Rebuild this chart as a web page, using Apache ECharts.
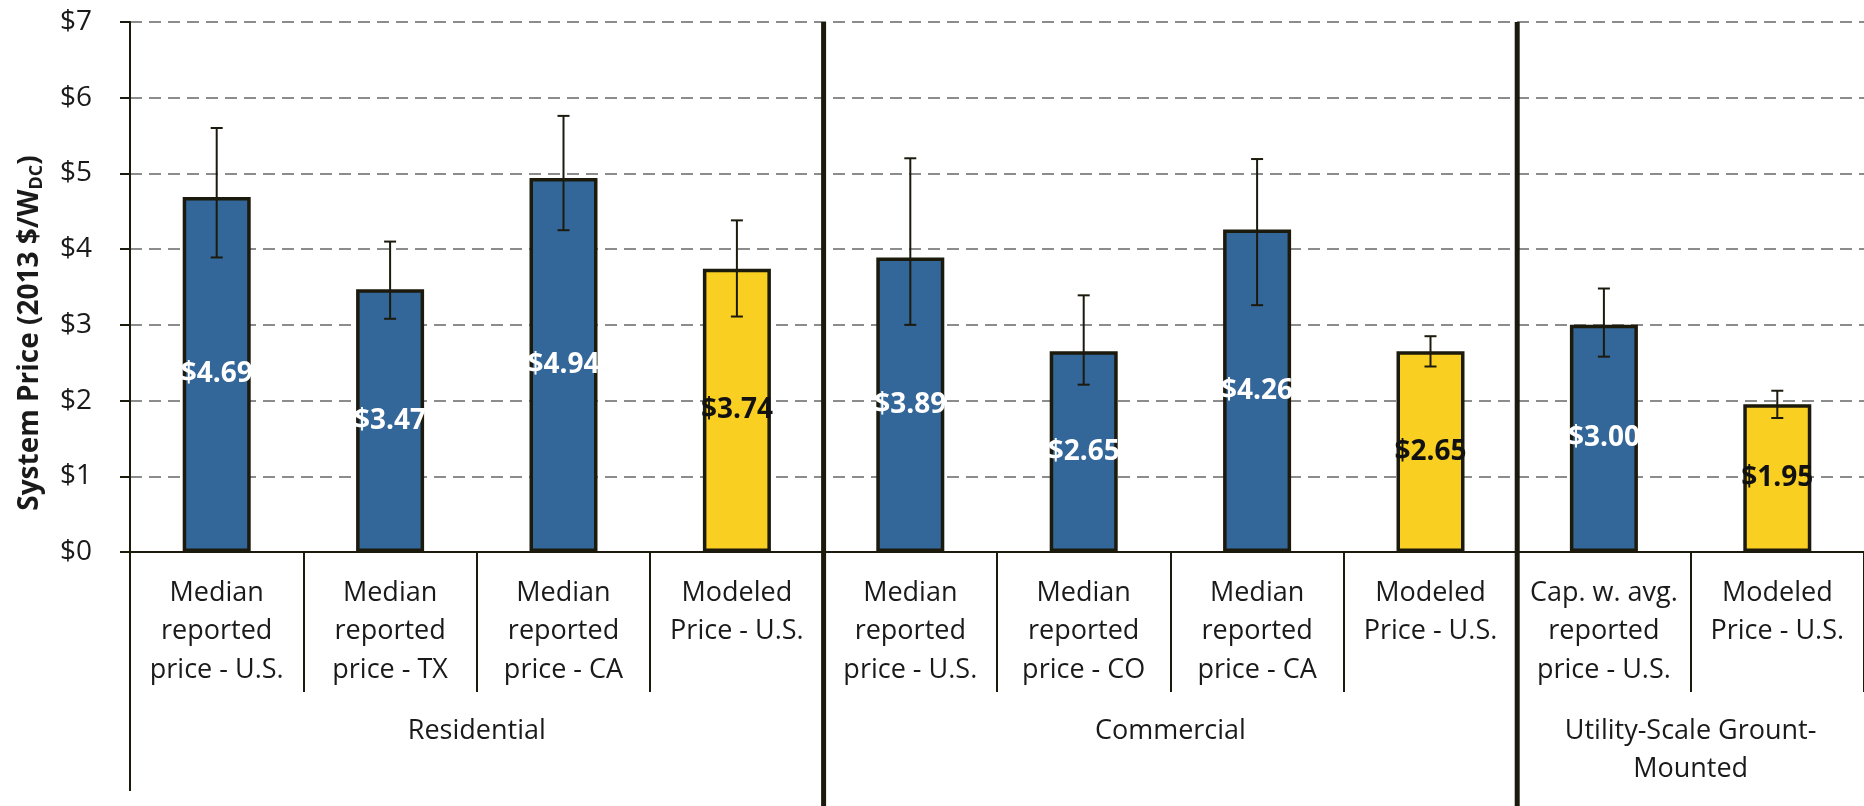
<!DOCTYPE html>
<html>
<head>
<meta charset="utf-8">
<script src="https://cdn.jsdelivr.net/npm/echarts@6/dist/echarts.min.js"></script>
<style>
html,body{margin:0;padding:0;background:#fff;}
#chart{width:1864px;height:806px;}
</style>
</head>
<body>
<div id="chart"></div>
<script>
// ---- data ----
const categories = [
  'Median\nreported\nprice - U.S.',
  'Median\nreported\nprice - TX',
  'Median\nreported\nprice - CA',
  'Modeled\nPrice - U.S.',
  'Median\nreported\nprice - U.S.',
  'Median\nreported\nprice - CO',
  'Median\nreported\nprice - CA',
  'Modeled\nPrice - U.S.',
  'Cap. w. avg.\nreported\nprice - U.S.',
  'Modeled\nPrice - U.S.'
];
const prices   = [4.69, 3.47, 4.94, 3.74, 3.89, 2.65, 4.26, 2.65, 3.00, 1.95];
const errLow   = [3.89, 3.08, 4.25, 3.11, 3.00, 2.21, 3.26, 2.45, 2.58, 1.77];
const errHigh  = [5.60, 4.10, 5.76, 4.38, 5.20, 3.39, 5.19, 2.85, 3.48, 2.13];
const groupNames   = ['Residential', 'Commercial', 'Utility-Scale Grount-\nMounted'];
const groupCenters = [2, 6, 9];      // position along the category span (0..10)
const groupBounds  = [4, 8];         // thick separators between groups
const yTicks = [0, 1, 2, 3, 4, 5, 6, 7];

// ---- styles ----
const INK = '#1c1a0c';
const BLUE = '#336699';
const YELLOW = '#F9CF22';
const FONT = '"Open Sans", "Liberation Sans", sans-serif';

const chart = echarts.init(document.getElementById('chart'), null, {renderer: 'canvas'});

const barData = prices.map((v, i) => {
  const modeled = categories[i].startsWith('Modeled');
  return {
    value: v,
    itemStyle: {color: modeled ? YELLOW : BLUE},
    label: {color: modeled ? '#111111' : '#ffffff'}
  };
});

const errData = prices.map((v, i) => [i, errLow[i], errHigh[i]]);

const sepSeries = groupBounds.map(b => ({
  type: 'line',
  xAxisIndex: 1,
  yAxisIndex: 0,
  data: [[b, yTicks[yTicks.length - 1]], [b, -3.6]],
  symbol: 'none',
  clip: false,
  silent: true,
  lineStyle: {color: INK, width: 5},
  z: 10
}));

const option = {
  animation: false,
  backgroundColor: '#ffffff',
  grid: {left: 130, right: -6, top: 22, bottom: 254, containLabel: false},
  xAxis: [
    {
      type: 'category',
      data: categories,
      boundaryGap: true,
      axisLine: {show: true, lineStyle: {color: INK, width: 2}},
      axisTick: {show: true, interval: 0, length: 140, lineStyle: {color: INK, width: 2}},
      axisLabel: {
        interval: 0, margin: 22, fontFamily: FONT, fontSize: 27, lineHeight: 38.5,
        color: '#1a1a1a', align: 'center', verticalAlign: 'top'
      },
      splitLine: {show: false}
    },
    {
      type: 'value',
      min: 0, max: 10,
      position: 'bottom',
      axisLine: {show: false},
      splitLine: {show: false},
      axisTick: {show: true, customValues: [0], length: 239, lineStyle: {color: INK, width: 2}},
      axisLabel: {
        show: true, customValues: groupCenters, margin: 160,
        fontFamily: FONT, fontSize: 27, lineHeight: 38.5, color: '#1a1a1a',
        verticalAlign: 'top', align: 'center',
        formatter: v => groupNames[groupCenters.indexOf(v)] || ''
      }
    }
  ],
  yAxis: {
    type: 'value',
    min: yTicks[0], max: yTicks[yTicks.length - 1], interval: 1,
    name: 'System Price (2013 $/W{sub|DC})',
    nameLocation: 'middle',
    nameGap: 84,
    nameRotate: 90,
    nameTextStyle: {
      fontFamily: FONT, fontSize: 28, fontWeight: 'bold', color: '#1a1a1a',
      padding: [0, 92, 0, 0],
      rich: {sub: {fontFamily: FONT, fontSize: 18, fontWeight: 'bold', color: '#1a1a1a', verticalAlign: 'bottom', padding: [14, 0, 0, 0]}}
    },
    axisLine: {show: true, lineStyle: {color: INK, width: 2}},
    axisTick: {show: true, length: 10, lineStyle: {color: INK, width: 2}},
    axisLabel: {
      margin: 38, fontFamily: FONT, fontSize: 28, color: '#1a1a1a',
      formatter: v => '$' + v
    },
    splitLine: {show: true, lineStyle: {color: '#8c8c8c', width: 2, type: [12, 7]}}
  },
  series: [
    {
      type: 'bar',
      xAxisIndex: 0,
      data: barData,
      barWidth: 68,
      itemStyle: {borderColor: INK, borderWidth: 3.5},
      label: {
        show: true, position: 'inside', fontFamily: FONT, fontSize: 28, fontWeight: 'bold',
        formatter: p => '$' + p.value.toFixed(2)
      },
      z: 2
    },
    {
      type: 'custom',
      xAxisIndex: 0,
      data: errData,
      z: 5,
      silent: true,
      renderItem: (params, api) => {
        const x = api.value(0);
        const lo = api.coord([x, api.value(1)]);
        const hi = api.coord([x, api.value(2)]);
        const hw = 6;
        const st = {stroke: INK, lineWidth: 2};
        return {
          type: 'group',
          children: [
            {type: 'line', shape: {x1: hi[0], y1: hi[1], x2: lo[0], y2: lo[1]}, style: st},
            {type: 'line', shape: {x1: hi[0] - hw, y1: hi[1], x2: hi[0] + hw, y2: hi[1]}, style: st},
            {type: 'line', shape: {x1: lo[0] - hw, y1: lo[1], x2: lo[0] + hw, y2: lo[1]}, style: st}
          ]
        };
      }
    },
    ...sepSeries
  ]
};

chart.setOption(option);
</script>
</body>
</html>
